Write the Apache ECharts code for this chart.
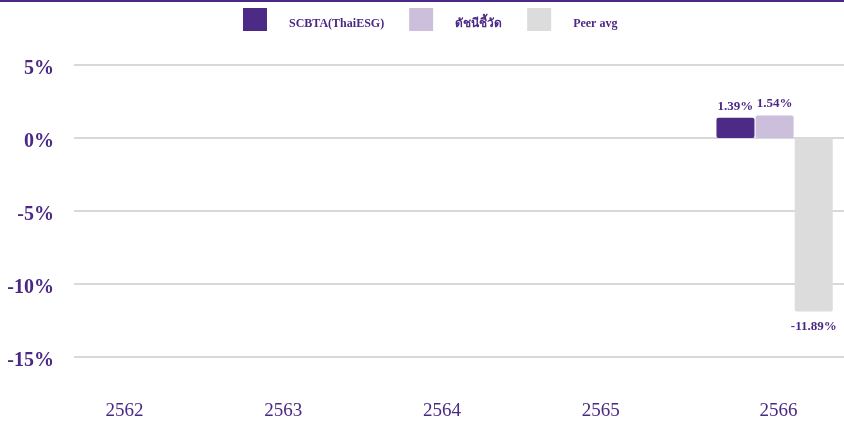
<!DOCTYPE html>
<html><head><meta charset="utf-8">
<script src="https://cdn.jsdelivr.net/npm/echarts@6/dist/echarts.min.js"></script>
<style>html,body{margin:0;padding:0;background:#fff}#c{width:844px;height:421px}</style>
</head><body><div id="c"></div>
<script>
const categories = ['2562','2563','2564','2565','2566'];
const seriesNames = ['SCBTA(ThaiESG)','ดัชนีชี้วัด','Peer avg'];
const fundValues = [null, null, null, null, 1.39];
const benchValues = [null, null, null, null, 1.54];
const peerValues = [null, null, null, null, -11.89];
const yTicks = [5, 0, -5, -10, -15];

const PURPLE = '#4B2885';
const colors = ['#4E2A87', '#CBBFDC', '#DCDCDC'];
const SERIF = '"Liberation Serif","Times New Roman",serif';

function mk(vals){
  return vals.map(v => v == null ? null : {
    value: v,
    label: { position: v < 0 ? 'bottom' : 'top', distance: v < 0 ? 9 : 5 }
  });
}

const chart = echarts.init(document.getElementById('c'));
chart.setOption({
  animation: false,
  graphic: [{ type: 'rect', shape: { x: 0, y: 0, width: 844, height: 2 }, style: { fill: PURPLE } }],
  legend: {
    top: 3, left: 238,
    itemWidth: 24, itemHeight: 23, itemGap: 25,
    icon: 'rect',
    formatter: n => '{n|' + n + '}',
    textStyle: { color: PURPLE, fontFamily: SERIF, fontWeight: 'bold', fontSize: 12,
      rich: { n: { padding: [8, 0, 0, 17], color: PURPLE, fontFamily: SERIF, fontWeight: 'bold', fontSize: 12 } } },
    data: seriesNames
  },
  grid: [
    { left: 60, right: -10, top: 65, bottom: 64, outerBoundsMode: 'none' },
    { left: 74, right: 0, top: 65, bottom: 64 }
  ],
  xAxis: [
    { type: 'category', gridIndex: 0, data: categories,
      axisLine: { show: false }, axisTick: { show: false },
      axisLabel: { margin: 45, color: PURPLE, fontFamily: SERIF, fontSize: 19,
        formatter: (v, i) => i < 4 ? '{a|' + v + '}' : '{b|' + v + '}',
        rich: {
          a: { padding: [0, 30, 0, 0], color: PURPLE, fontFamily: SERIF, fontSize: 19 },
          b: { padding: [0, 0, 0, 8], color: PURPLE, fontFamily: SERIF, fontSize: 19 }
        } } },
    { type: 'category', gridIndex: 1, data: categories, show: false }
  ],
  yAxis: [
    { type: 'value', gridIndex: 0, min: -15, max: 5, interval: 5, show: false, splitLine: { show: false } },
    { type: 'value', gridIndex: 1, min: -15, max: 5, interval: 5,
      axisLine: { show: false }, axisTick: { show: false },
      splitLine: { lineStyle: { color: '#D9D9D9', width: 2 } },
      axisLabel: { margin: 20, color: PURPLE, fontFamily: SERIF, fontWeight: 'bold', fontSize: 20,
        formatter: v => yTicks.includes(v) ? '{t|' + v + '%}' : '',
        rich: { t: { padding: [8, 0, 0, 0], color: PURPLE, fontFamily: SERIF, fontWeight: 'bold', fontSize: 20 } } } }
  ],
  series: [
    { name: seriesNames[0], type: 'bar', xAxisIndex: 0, yAxisIndex: 0, data: mk(fundValues) },
    { name: seriesNames[1], type: 'bar', xAxisIndex: 0, yAxisIndex: 0, data: mk(benchValues) },
    { name: seriesNames[2], type: 'bar', xAxisIndex: 0, yAxisIndex: 0, data: mk(peerValues) }
  ].map((s, i) => Object.assign(s, {
    barWidth: 38, barGap: '3%',
    itemStyle: { color: colors[i], borderRadius: 2 },
    label: { show: true, color: PURPLE, fontFamily: SERIF, fontWeight: 'bold', fontSize: 13,
      formatter: p => p.value.toFixed(2) + '%' }
  }))
});
</script></body></html>
